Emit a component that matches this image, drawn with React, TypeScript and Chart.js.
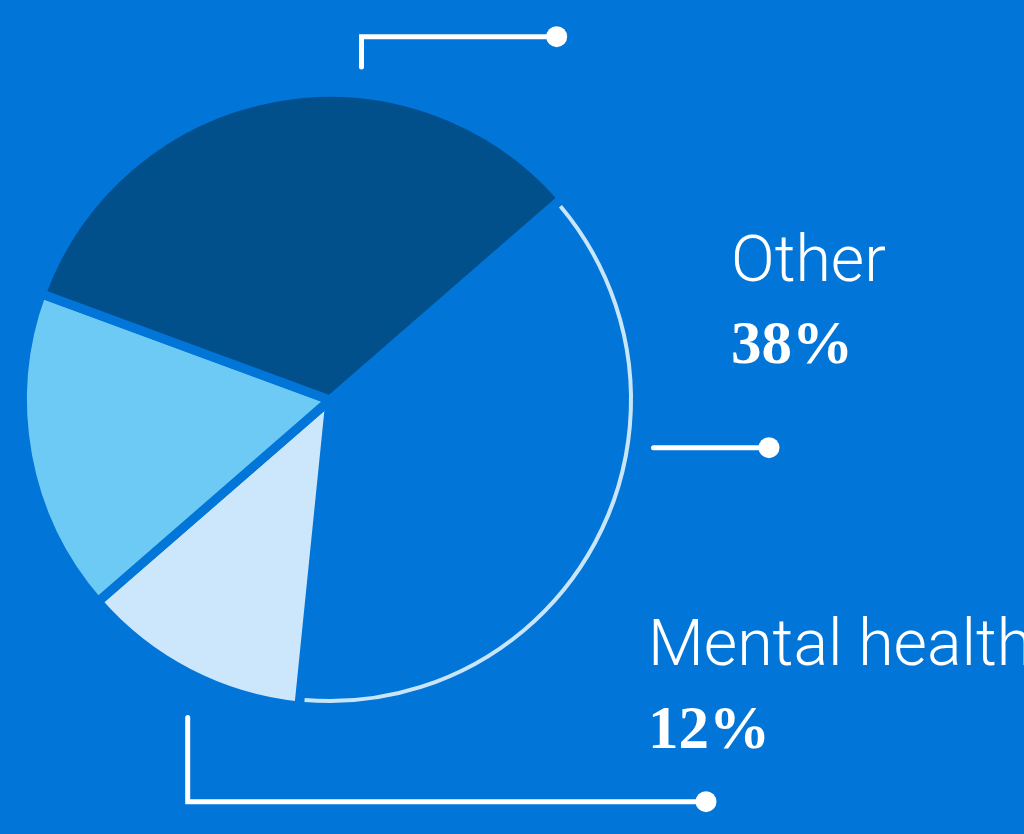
import React, { useEffect, useRef } from "react";
import { Chart, registerables } from "chart.js";

Chart.register(...registerables);

// ---- data ----
const CATEGORIES: string[] = ["Other", "Mental health", "Segment C", "Segment D"];
const VALUES: number[] = [38, 12, 17, 33];
const LABEL_TEXT: string[] = ["Other", "Mental health"];
const LABEL_PCT: string[] = ["38%", "12%"];

// ---- styles ----
const BG = "#0275D8";
const SLICE_COLORS = [BG, "#CCE7FB", "#6DCAF4", "#01508C"];
const ARC_COLOR = "#C9E5F9";
const BORDER = 9;
const ARC_W = 4;
const OTHER_INDEX = 0;

type Callout = { pts: [number, number][]; dot: [number, number] };
const CALLOUTS: Callout[] = [
  { pts: [[361.5, 67], [361.5, 36.7], [556.7, 36.7]], dot: [556.7, 36.7] },
  { pts: [[653.5, 447.7], [769, 447.7]], dot: [769, 447.7] },
  { pts: [[187.7, 717.5], [187.7, 801.7], [706, 801.7]], dot: [706, 801.7] },
];

const otherArcPlugin = {
  id: "otherArc",
  afterDatasetsDraw(chart: any) {
    const el = chart.getDatasetMeta(0).data[OTHER_INDEX];
    if (!el) return;
    const { x, y, startAngle, endAngle, outerRadius } = el.getProps(
      ["x", "y", "startAngle", "endAngle", "outerRadius"],
      true
    );
    const ctx = chart.ctx;
    const r = outerRadius - BORDER / 2 - ARC_W / 2;
    const d = (BORDER / 2 + 0.5) / r;
    ctx.save();
    ctx.strokeStyle = ARC_COLOR;
    ctx.lineWidth = ARC_W;
    ctx.lineCap = "butt";
    ctx.beginPath();
    ctx.arc(x, y, r, startAngle + d, endAngle - d);
    ctx.stroke();
    ctx.restore();
  },
};

const calloutPlugin = {
  id: "callouts",
  afterDraw(chart: any) {
    const ctx = chart.ctx;
    ctx.save();
    ctx.strokeStyle = "#FFFFFF";
    ctx.fillStyle = "#FFFFFF";
    ctx.lineWidth = 5;
    ctx.lineCap = "round";
    ctx.lineJoin = "miter";
    for (const c of CALLOUTS) {
      ctx.beginPath();
      c.pts.forEach(([px, py], i) => (i === 0 ? ctx.moveTo(px, py) : ctx.lineTo(px, py)));
      ctx.stroke();
      ctx.beginPath();
      ctx.arc(c.dot[0], c.dot[1], 10.5, 0, Math.PI * 2);
      ctx.fill();
    }
    ctx.restore();
  },
};

const sansStyle: React.CSSProperties = {
  position: "absolute",
  fontFamily: "Roboto, 'Noto Sans', sans-serif",
  fontWeight: 300,
  fontSize: 64.5,
  lineHeight: "64.5px",
  color: "#FFFFFF",
  whiteSpace: "nowrap",
  margin: 0,
};
const serifStyle: React.CSSProperties = {
  position: "absolute",
  fontFamily: "'Liberation Serif', 'DejaVu Serif', serif",
  fontWeight: 700,
  fontSize: 61,
  lineHeight: "61px",
  color: "#FFFFFF",
  whiteSpace: "nowrap",
  margin: 0,
};

export default function App() {
  const canvasRef = useRef<HTMLCanvasElement | null>(null);

  useEffect(() => {
    document.body.style.margin = "0";
    const canvas = canvasRef.current;
    if (!canvas) return;
    const chart = new Chart(canvas, {
      type: "pie",
      data: {
        labels: CATEGORIES,
        datasets: [
          {
            data: VALUES,
            backgroundColor: SLICE_COLORS,
            borderColor: BG,
            borderWidth: BORDER,
            borderJoinStyle: "miter",
            hoverOffset: 0,
          } as any,
        ],
      },
      options: {
        animation: false,
        responsive: false,
        events: [],
        rotation: 49,
        radius: 303 + BORDER / 2,
        layout: { padding: { left: 0, top: 0, right: 364, bottom: 34 } },
        plugins: {
          legend: { display: false },
          tooltip: { enabled: false },
        },
      } as any,
      plugins: [otherArcPlugin, calloutPlugin],
    });
    return () => chart.destroy();
  }, []);

  return (
    <div
      style={{
        position: "fixed",
        left: 0,
        top: 0,
        width: 1024,
        height: 834,
        background: BG,
        overflow: "hidden",
      }}
    >
      <canvas
        ref={canvasRef}
        width={1024}
        height={834}
        style={{ position: "absolute", left: 0, top: 0, width: 1024, height: 834 }}
      />
      <div style={{ ...sansStyle, left: 731, top: 226.7 }}>{LABEL_TEXT[0]}</div>
      <div style={{ ...serifStyle, left: 731, top: 312 }}>{LABEL_PCT[0]}</div>
      <div style={{ ...sansStyle, left: 648, top: 610.7 }}>{LABEL_TEXT[1]}</div>
      <div style={{ ...serifStyle, left: 648, top: 697 }}>{LABEL_PCT[1]}</div>
    </div>
  );
}
